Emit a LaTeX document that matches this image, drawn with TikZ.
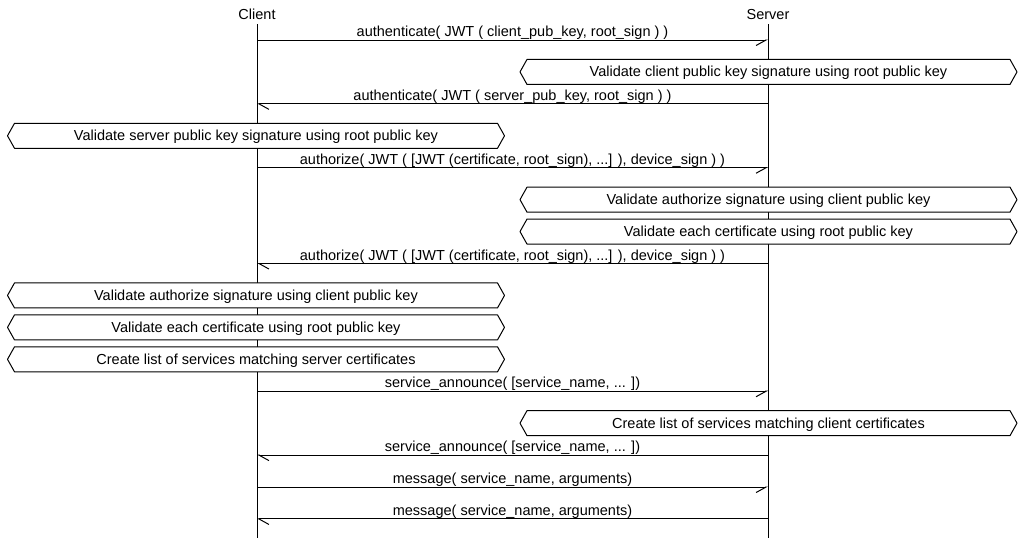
\documentclass[tikz,border=0pt]{standalone}
\usepackage{fontspec}
\setmainfont{Liberation Sans}
\usetikzlibrary{arrows.meta}
\newcommand\hexbox[4]{%
  \draw[boxline] (#2-248.5,#3) -- (#2-241.5,#3-12.5) -- (#2+241.5,#3-12.5) -- (#2+248.5,#3) -- (#2+241.5,#3+12.5) -- (#2-241.5,#3+12.5) -- cycle;
  \node[anchor=base] (#1) at (#2,#3+5) {#4};}
\begin{document}
\begin{tikzpicture}[x=1pt,y=-1pt,
  every node/.style={font=\fontsize{14.5}{16}\selectfont, inner sep=0pt, outer sep=0pt},
  life/.style={line width=1pt},
  msg/.style={line width=1pt},
  toserver/.style={msg,-{Straight Barb[right,length=10pt,width=11pt,line width=1pt]}},
  toclient/.style={msg,-{Straight Barb[left,length=10pt,width=11pt,line width=1pt]}},
  boxline/.style={line width=1pt, fill=white, line join=round},
  lbl/.style={anchor=base}
]
\fill[white] (0,0) rectangle (1024,538);
\useasboundingbox (0,0) rectangle (1024,538);
% titles
\node[lbl] (client) at (257,19) {Client};
\node[lbl] (server) at (768,19) {Server};
\coordinate (ctop) at (257,24);
\coordinate (cbot) at (257,538);
\coordinate (stop) at (768,24);
\coordinate (sbot) at (768,538);
\draw[life] (ctop) -- (cbot);
\draw[life] (stop) -- (sbot);
% row coordinates
\foreach \i/\y in {1/40,3/103.86,5/167.72,8/263.51,12/391.23,14/455.09,15/487.02,16/518.95}{
  \coordinate (c\i) at (257,\y);
  \coordinate (s\i) at (768,\y);
}
% messages
\draw[toserver] (c1) -- (s1);
\node[lbl] (m1) at (512.5,36.5) {authenticate( JWT ( client\_pub\_key, root\_sign ) )};
\hexbox{b2}{768.5}{71.93}{Validate client public key signature using root public key}
\draw[toclient] (s3) -- (c3);
\node[lbl] (m3) at (512.5,100.36) {authenticate( JWT ( server\_pub\_key, root\_sign ) )};
\hexbox{b4}{256}{135.79}{Validate server public key signature using root public key}
\draw[toserver] (c5) -- (s5);
\node[lbl] (m5) at (512.5,164.22) {authorize( JWT ( [JWT (certificate, root\_sign), ...] ), device\_sign ) )};
\hexbox{b6}{768.5}{199.65}{Validate authorize signature using client public key}
\hexbox{b7}{768.5}{231.58}{Validate each certificate using root public key}
\draw[toclient] (s8) -- (c8);
\node[lbl] (m8) at (512.5,260.01) {authorize( JWT ( [JWT (certificate, root\_sign), ...] ), device\_sign ) )};
\hexbox{b9}{256}{295.44}{Validate authorize signature using client public key}
\hexbox{b10}{256}{327.37}{Validate each certificate using root public key}
\hexbox{b11}{256}{359.3}{Create list of services matching server certificates}
\draw[toserver] (c12) -- (s12);
\node[lbl] (m12) at (512.5,387.73) {service\_announce( [service\_name, ... ])};
\hexbox{b13}{768.5}{423.16}{Create list of services matching client certificates}
\draw[toclient] (s14) -- (c14);
\node[lbl] (m14) at (512.5,451.59) {service\_announce( [service\_name, ... ])};
\draw[toserver] (c15) -- (s15);
\node[lbl] (m15) at (512.5,483.52) {message( service\_name, arguments)};
\draw[toclient] (s16) -- (c16);
\node[lbl] (m16) at (512.5,515.45) {message( service\_name, arguments)};
\end{tikzpicture}
\end{document}
